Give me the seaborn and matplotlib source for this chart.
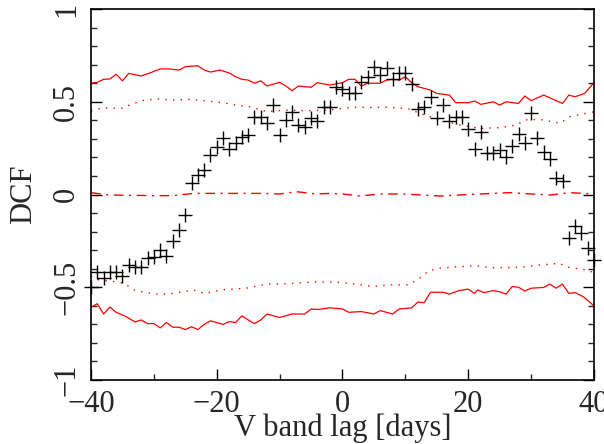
import matplotlib
matplotlib.use("Agg")
import matplotlib.pyplot as plt
import seaborn as sns
import pandas as pd
from matplotlib.ticker import MultipleLocator

# ---------------- DATA ----------------
lags = [-40, -39, -38, -37, -36, -35, -34, -33, -32, -31,
        -30, -29, -28, -27, -26, -25, -24, -23, -22, -21,
        -20, -19, -18, -17, -16, -15, -14, -13, -12, -11,
        -10, -9, -8, -7, -6, -5, -4, -3, -2, -1,
        0, 1, 2, 3, 4, 5, 6, 7, 8, 9,
        10, 11, 12, 13, 14, 15, 16, 17, 18, 19,
        20, 21, 22, 23, 24, 25, 26, 27, 28, 29,
        30, 31, 32, 33, 34, 35, 36, 37, 38, 39, 40]
dcf = [-0.50, -0.42, -0.45, -0.42, -0.42, -0.44, -0.38, -0.39, -0.39, -0.34,
       -0.335, -0.30, -0.33, -0.25, -0.19, -0.11, 0.06, 0.105, 0.13, 0.215,
       0.254, 0.303, 0.244, 0.276, 0.308, 0.321, 0.416, 0.416, 0.384, 0.482,
       0.321, 0.40, 0.446, 0.375, 0.366, 0.414, 0.398, 0.473, 0.473, 0.581,
       0.567, 0.545, 0.545, 0.608, 0.632, 0.689, 0.644, 0.68, 0.621, 0.653,
       0.657, 0.596, 0.459, 0.47, 0.524, 0.41, 0.48, 0.398, 0.416, 0.416,
       0.351, 0.244, 0.339, 0.225, 0.225, 0.24, 0.20, 0.261, 0.326, 0.279,
       0.441, 0.303, 0.231, 0.19, 0.091, 0.074, -0.236, -0.17, -0.206, -0.29, -0.353]

# significance levels (red curves)
up_solid_lag = [-40, -39, -38, -37, -36, -35, -34, -32, -30.5, -29, -27.5, -26, -25, -23,
                -22, -21, -19.5, -18, -17, -16, -15, -14, -13, -12, -10, -9, -8, -7, -5,
                -4, -2, 0, 1, 2, 3, 4, 6, 7, 8, 9, 10, 11, 12, 14, 15, 17, 18, 20, 21,
                22, 24, 25, 26, 28, 29, 30, 32, 34, 35, 36, 37, 38.5, 40]
up_solid = [0.60, 0.605, 0.621, 0.623, 0.648, 0.613, 0.653, 0.639, 0.657, 0.677, 0.677, 0.671,
            0.689, 0.694, 0.671, 0.66, 0.671, 0.655, 0.635, 0.621, 0.617, 0.60, 0.613, 0.585,
            0.605, 0.585, 0.56, 0.585, 0.578, 0.603, 0.59, 0.603, 0.621, 0.621, 0.585, 0.60,
            0.60, 0.617, 0.621, 0.617, 0.635, 0.603, 0.581, 0.563, 0.545, 0.536, 0.495, 0.495,
            0.504, 0.486, 0.50, 0.482, 0.50, 0.491, 0.531, 0.506, 0.536, 0.506, 0.491, 0.536,
            0.527, 0.545, 0.603]

lo_solid_lag = [-40, -39, -38, -37, -36, -34.5, -33, -32, -31, -30, -29, -28, -27, -26, -25,
                -24, -23, -22, -21, -19, -18, -17, -16, -15, -14, -13, -12, -10, -8, -6, -5,
                -4, -2, 0, 1, 3, 5, 6, 8, 9, 11, 12, 13, 14, 16, 17, 18.5, 20, 21, 21.5, 22.5,
                24, 25, 26, 27, 28, 29, 30, 32, 33, 34, 35, 36, 37, 38.3, 40]
lo_solid = [-0.607, -0.589, -0.644, -0.607, -0.635, -0.657, -0.687, -0.676, -0.696, -0.696,
            -0.719, -0.69, -0.715, -0.715, -0.728, -0.713, -0.728, -0.70, -0.681, -0.70,
            -0.685, -0.69, -0.654, -0.676, -0.696, -0.676, -0.644, -0.663, -0.644, -0.644,
            -0.617, -0.62, -0.611, -0.617, -0.635, -0.631, -0.644, -0.626, -0.644, -0.617,
            -0.611, -0.58, -0.583, -0.527, -0.527, -0.537, -0.518, -0.51, -0.533, -0.514,
            -0.529, -0.518, -0.524, -0.537, -0.496, -0.50, -0.52, -0.505, -0.501, -0.483,
            -0.505, -0.483, -0.533, -0.529, -0.551, -0.60]

up_dot_lag = [-40, -39, -38, -36.5, -35, -33.5, -31.5, -29.3, -27, -24.5, -21.6, -19, -17,
              -14.7, -12, -9.4, -5.7, -3, -1, 1.2, 4.4, 7.6, 10.5, 12.3, 15.5, 18.7, 21.9,
              25, 27.7, 29, 31.4, 34.6, 36.2, 38.8, 40]
up_dot = [0.45, 0.459, 0.468, 0.465, 0.465, 0.488, 0.509, 0.515, 0.509, 0.513, 0.504, 0.495,
          0.482, 0.473, 0.446, 0.455, 0.452, 0.455, 0.459, 0.47, 0.47, 0.47, 0.462, 0.438,
          0.40, 0.375, 0.357, 0.36, 0.375, 0.402, 0.405, 0.384, 0.42, 0.438, 0.446]

lo_dot_lag = [-40, -38.9, -36.7, -34.8, -33.2, -31.2, -29, -26.9, -23.8, -21.9, -19.2, -15.3,
              -12.1, -8.8, -4.9, -1.1, 2.2, 4.9, 7.6, 10.4, 12, 13.7, 15.3, 18.1, 21.3, 23.5,
              26.3, 29, 31.7, 34.5, 36.1, 38.3, 40]
lo_dot = [-0.44, -0.459, -0.468, -0.477, -0.514, -0.529, -0.539, -0.533, -0.514, -0.533,
          -0.514, -0.505, -0.483, -0.481, -0.472, -0.472, -0.483, -0.496, -0.487, -0.487,
          -0.459, -0.412, -0.397, -0.39, -0.384, -0.394, -0.394, -0.39, -0.379, -0.371,
          -0.394, -0.403, -0.42]

mid_lag = [-40, -37, -30, -27, -23.7, -18.4, -12.6, -10, -7.3, -4.1, -2, 0, 2.8, 6, 9.5,
           15.5, 21.9, 26.6, 33, 36.2, 40]
mid = [0.01, -0.003, -0.006, -0.006, 0.006, 0.006, 0.006, 0.003, 0.015, 0.003, 0.006, 0.003,
       -0.008, 0.003, 0.003, -0.008, 0.003, 0.01, -0.003, 0.01, 0.003]

yticks = [-1, -0.5, 0, 0.5, 1]
ytick_labels = ["\u22121", "\u22120.5", "0", "0.5", "1"]
xticks = [-40, -20, 0, 20, 40]
xtick_labels = ["\u221240", "\u221220", "0", "20", "40"]

# ---------------- STYLE ----------------
sns.set_style("ticks")
plt.rcParams["font.family"] = ["Liberation Serif", "DejaVu Serif"]
plt.rcParams["font.size"] = 22

fig = plt.figure(figsize=(6.04, 4.44), dpi=100)
ax = fig.add_axes([0.1507, 0.1441, 0.8327, 0.8356])

red = "#ff0000"
sns.lineplot(x=up_solid_lag, y=up_solid, color=red, lw=0.9, sort=False, ax=ax)
sns.lineplot(x=lo_solid_lag, y=lo_solid, color=red, lw=0.9, sort=False, ax=ax)
sns.lineplot(x=up_dot_lag, y=up_dot, color=red, lw=1.0, linestyle=(0, (1, 4.5)), sort=False, ax=ax)
sns.lineplot(x=lo_dot_lag, y=lo_dot, color=red, lw=1.0, linestyle=(0, (1, 4.5)), sort=False, ax=ax)
sns.lineplot(x=mid_lag, y=mid, color=red, lw=1.0, linestyle=(0, (7, 4, 1.5, 4)), sort=False, ax=ax)

df = pd.DataFrame({"lag": lags, "dcf": dcf})
sns.scatterplot(data=df, x="lag", y="dcf", marker="+", color="black", s=95,
                linewidth=1.0, clip_on=False, zorder=5, ax=ax)

ax.set_xlim(-40, 40)
ax.set_ylim(-1, 1)
ax.set_xticks(xticks)
ax.set_xticklabels(xtick_labels)
ax.set_yticks(yticks)
ax.set_yticklabels(ytick_labels, rotation=90, va="center")
ax.xaxis.set_minor_locator(MultipleLocator(10))
ax.yaxis.set_minor_locator(MultipleLocator(0.1))
ax.tick_params(which="major", direction="in", length=8, width=1.0, top=False, right=True,
               labelsize=22, pad=7, color="black")
ax.tick_params(which="minor", direction="in", length=4, width=1.0, top=False, right=True)
ax.tick_params(axis="x", pad=7)
for s in ax.spines.values():
    s.set_linewidth(1.2)
    s.set_color("black")

ax.set_xlabel("V band lag [days]", fontsize=22)
ax.xaxis.set_label_coords(0.5, -0.09)
ax.set_ylabel("DCF", fontsize=22, labelpad=10)

fig.savefig("out.png", dpi=100)
